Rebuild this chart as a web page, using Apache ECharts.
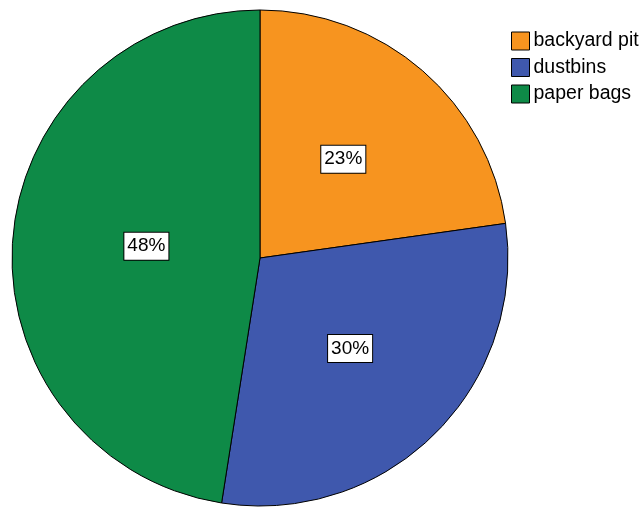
<!DOCTYPE html>
<html>
<head>
<meta charset="utf-8">
<script src="https://cdn.jsdelivr.net/npm/echarts@6/dist/echarts.min.js"></script>
<style>
  html, body { margin: 0; padding: 0; background: #ffffff; }
  #chart { width: 642px; height: 508px; }
</style>
</head>
<body>
<div id="chart"></div>
<script>
// Disposal methods and their share (%)
const categories = ['backyard pit', 'dustbins', 'paper bags'];
const shares = [23, 30, 48];
const colors = ['#f7941f', '#3f58ad', '#0e8a47'];
// Nudges for the inside labels, one per slice
const labelOffsets = [[0, -3], [1, 0], [13, -2]];

const chart = echarts.init(document.getElementById('chart'), null, { renderer: 'canvas' });

chart.setOption({
  backgroundColor: '#ffffff',
  animation: false,
  color: colors,
  legend: {
    orient: 'vertical',
    left: 506,
    top: 26,
    itemWidth: 18,
    itemHeight: 18,
    itemGap: 6.5,
    icon: 'rect',
    itemStyle: { borderColor: '#000000', borderWidth: 1 },
    textStyle: { fontFamily: 'Liberation Sans, Arial, sans-serif', fontSize: 19.5, color: '#000000', padding: [0, 0, 0, -1] },
    data: categories
  },
  series: [{
    type: 'pie',
    center: [260, 258],
    radius: [0, 248],
    startAngle: 90,
    clockwise: true,
    avoidLabelOverlap: false,
    itemStyle: { borderColor: '#000000', borderWidth: 1 },
    label: {
      show: true,
      position: 'inside',
      formatter: p => p.value + '%',
      fontFamily: 'Liberation Sans, Arial, sans-serif',
      fontSize: 19,
      color: '#000000',
      backgroundColor: '#ffffff',
      borderColor: '#000000',
      borderWidth: 1,
      padding: [5, 3, 3, 3]
    },
    labelLine: { show: false },
    emphasis: { disabled: true },
    data: categories.map((name, i) => ({ name, value: shares[i], label: { offset: labelOffsets[i] } }))
  }]
});
</script>
</body>
</html>
